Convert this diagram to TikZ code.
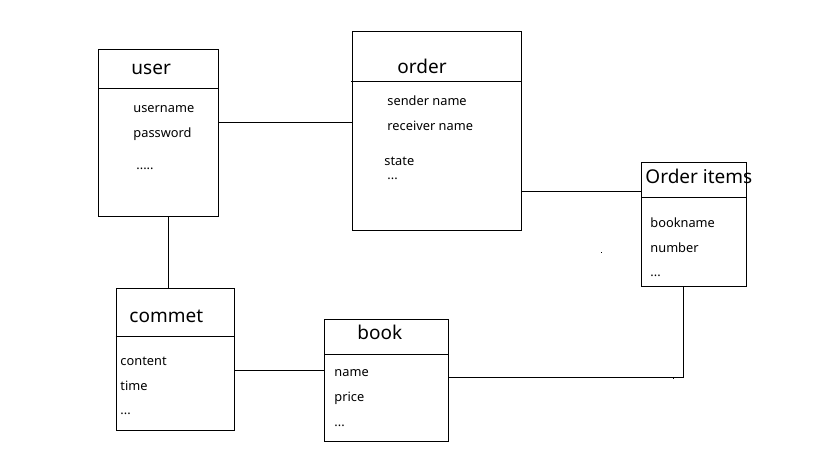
\documentclass[tikz,border=0pt]{standalone}
\usepackage{fontspec}
\setmainfont{Noto Sans}
\begin{document}
\begin{tikzpicture}[x=1pt,y=-1pt,line width=0.9pt,
  entity/.style={draw=black,line width=0.9pt,anchor=north west,inner sep=0pt},
  ttl/.style={anchor=mid west,inner sep=0pt,yshift=-4pt,font=\fontsize{19}{21}\selectfont},
  attr/.style={anchor=mid west,inner sep=0pt,yshift=-3pt,font=\fontsize{12.8}{14}\selectfont},
  link/.style={draw=black,line width=0.9pt}]
\useasboundingbox[fill=white] (0,0) rectangle (819,460);

% user
\node[entity,minimum width=120pt,minimum height=167pt] (user) at (98,49) {};
\draw (98,88) -- (219,88);
\node[ttl] (userT) at (131,68) {user};
\node[attr] (u1) at (133,107) {username};
\node[attr] (u2) at (133,132) {password};
\node[attr] (u3) at (136,164) {.....};

% order
\node[entity,minimum width=169pt,minimum height=199pt] (order) at (352,31) {};
\draw (351,81.5) -- (521,81.5);
\node[ttl] (orderT) at (397,67) {order};
\node[attr] (o1) at (387,100) {sender name};
\node[attr] (o2) at (387,125) {receiver name};
\node[attr] (o3) at (384,160) {state};
\node[attr] (o4) at (387,174) {...};

% Order items
\node[entity,minimum width=105pt,minimum height=124pt] (items) at (641.3,162.3) {};
\draw (641.3,197.3) -- (746.3,197.3);
\node[ttl] (itemsT) at (645,177) {Order items};
\node[attr] (i1) at (650,222) {bookname};
\node[attr] (i2) at (650,247) {number};
\node[attr] (i3) at (650,271) {...};

% commet
\node[entity,minimum width=118.6pt,minimum height=142pt] (commet) at (115.7,288.3) {};
\draw (115.7,336.3) -- (234.3,336.3);
\node[ttl] (commetT) at (129,316) {commet};
\node[attr] (c1) at (120,360) {content};
\node[attr] (c2) at (120,385) {time};
\node[attr] (c3) at (120,409) {...};

% book
\node[entity,minimum width=124pt,minimum height=122pt] (book) at (324.3,319.3) {};
\draw (324.3,354.3) -- (448.3,354.3);
\node[ttl] (bookT) at (357,333) {book};
\node[attr] (b1) at (334,371) {name};
\node[attr] (b2) at (334,396) {price};
\node[attr] (b3) at (334,421) {...};

% connectors
\draw[link] (user.east |- 0,122.3) -- (order.west |- 0,122.3);
\draw[link] (order.east |- 0,191.7) -- (items.west |- 0,191.7);
\draw[link] (user.south -| 168.5,0) -- (commet.north -| 168.5,0);
\draw[link] (commet.east |- 0,370.5) -- (book.west |- 0,370.5);
\coordinate (corner) at (683.5,377.5);
\draw[link] (items.south -| corner) -- (corner) -- (book.east |- corner);

% stray dots
\fill (600.5,251.5) rectangle (601.7,252.7);
\fill (672.8,378) rectangle (674.2,379.4);
\end{tikzpicture}
\end{document}
